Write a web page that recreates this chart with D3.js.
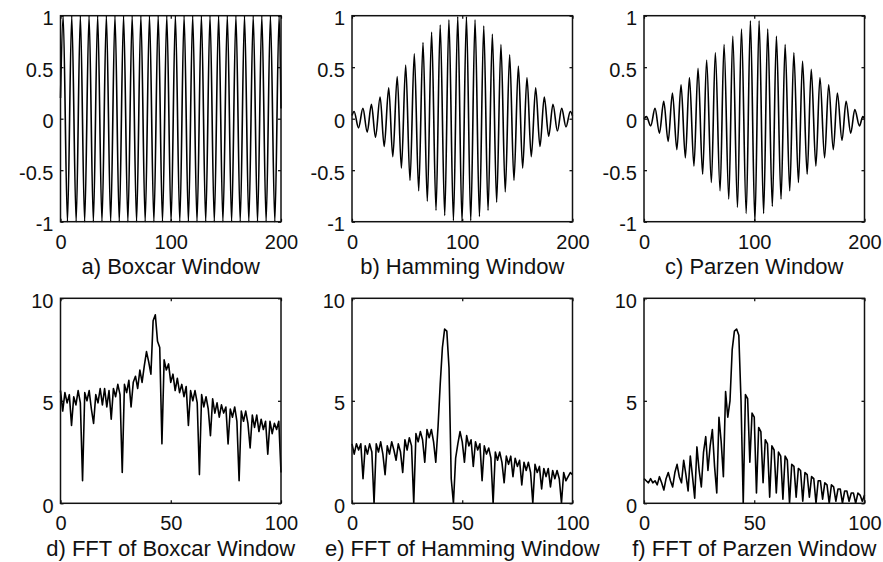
<!DOCTYPE html>
<html>
<head>
<meta charset="utf-8">
<script src="https://cdn.jsdelivr.net/npm/d3@7"></script>
<style>
  body { margin: 0; background: #fff; }
  svg { display: block; }
</style>
</head>
<body>
<div id="chart"></div>
<script>
// ---- data ----
// top row: turning points (peaks / troughs) of the windowed signal, x in samples
const boxcarX = [0, 2.4, 6.3, 10.2, 14.2, 18.0, 21.9, 25.9, 29.8, 33.7, 37.6, 41.6, 45.5, 49.4, 53.3, 57.2, 61.1, 65.0, 69.0, 72.9, 76.8,
  80.7, 84.7, 88.6, 92.5, 96.4, 100.3, 104.2, 108.2, 112.1, 116.0, 119.9, 123.8, 127.8, 131.7, 135.6, 139.5, 143.4, 147.3, 151.3, 155.2,
  159.1, 163.0, 166.9, 170.8, 174.8, 178.7, 182.6, 186.5, 190.4, 194.4, 198.3, 200];
const boxcarY = [0.2, 1, -1, 1, -1, 1, -1, 1, -1, 1, -1, 1, -1, 1, -1, 1, -1, 1, -1, 1, -1, 1, -1, 1, -1, 1, -1,
  1, -1, 1, -1, 1, -1, 1, -1, 1, -1, 1, -1, 1, -1, 1, -1, 1, -1, 1, -1, 1, -1, 1, -1, 1, 0.1];

const hammingX = [0, 1.9, 5.9, 9.9, 13.8, 17.6, 21.3, 25.5, 29.2, 33.3, 37.0, 41.0, 44.8, 48.7, 52.6, 56.5, 60.5, 64.4, 68.3, 72.2, 76.2,
  80.0, 84.1, 87.9, 92.0, 95.9, 99.8, 103.8, 107.7, 111.6, 115.6, 119.5, 123.4, 127.3, 131.2, 135.1, 139.0, 143.0, 146.9, 150.9, 154.8,
  158.7, 162.6, 166.6, 170.5, 174.4, 178.4, 182.3, 186.3, 190.2, 194.1, 198.0, 200];
const hammingY = [0.03, 0.07, -0.09, 0.10, -0.13, 0.14, -0.18, 0.21, -0.27, 0.30, -0.37, 0.41, -0.48, 0.52, -0.60, 0.63, -0.70,
  0.74, -0.80, 0.84, -0.89, 0.91, -0.94, 0.96, -0.99, 0.99, -1.0, 0.99, -0.99, 0.96, -0.95, 0.90, -0.89, 0.82, -0.81, 0.72, -0.71,
  0.62, -0.60, 0.51, -0.48, 0.40, -0.37, 0.30, -0.27, 0.21, -0.17, 0.14, -0.12, 0.10, -0.08, 0.07, 0.03];

const parzenX = [0, 2.2, 6.1, 10.0, 14.0, 17.9, 21.9, 25.8, 29.8, 33.6, 37.5, 41.2, 45.3, 49.0, 53.2, 56.8, 61.1, 64.7, 69.0, 72.6, 76.9,
  80.5, 84.8, 88.4, 92.7, 96.5, 100.6, 104.4, 108.5, 112.2, 116.4, 120.1, 124.3, 128.0, 132.2, 135.9, 140.1, 143.8, 148.0, 151.7, 155.9,
  159.6, 163.8, 167.5, 171.7, 175.4, 179.6, 183.3, 187.5, 191.2, 195.4, 198.5, 200];
const parzenY = [0.0, 0.02, -0.07, 0.10, -0.14, 0.17, -0.22, 0.25, -0.30, 0.33, -0.38, 0.40, -0.46, 0.49, -0.54, 0.57, -0.62,
  0.64, -0.70, 0.72, -0.78, 0.80, -0.86, 0.87, -0.92, 0.95, -1.0, 0.95, -0.92, 0.87, -0.85, 0.80, -0.78, 0.72, -0.70, 0.64, -0.62,
  0.56, -0.54, 0.48, -0.46, 0.40, -0.38, 0.33, -0.30, 0.25, -0.21, 0.17, -0.14, 0.09, -0.07, 0.02, 0.0];

// bottom row: FFT magnitude per bin 0..100
const boxcarFft = [5.5, 4.5, 5.4, 4.9, 5.3, 3.8, 5.2, 4.8, 5.5, 4.9, 1.1, 5.4, 5.0, 5.5, 4.6, 3.9, 5.3, 4.9, 5.6, 4.8,
  5.6, 4.7, 5.5, 4.1, 5.6, 5.2, 5.8, 5.3, 1.5, 5.8, 5.4, 6.0, 4.7, 5.9, 6.2, 5.6, 6.5, 5.9, 6.7, 7.4,
  6.9, 6.3, 8.9, 9.2, 7.9, 7.6, 2.9, 7.0, 6.5, 6.8, 5.9, 6.3, 5.5, 6.1, 5.4, 5.8, 5.2, 5.7, 3.8, 5.5,
  5.0, 5.5, 4.9, 1.4, 5.3, 4.7, 5.2, 4.6, 3.3, 5.1, 4.4, 4.9, 4.2, 4.8, 4.4, 4.7, 2.9, 4.6, 4.2, 4.7,
  4.0, 1.1, 4.5, 4.0, 4.5, 3.9, 2.7, 4.3, 3.7, 4.3, 3.5, 4.1, 3.6, 4.0, 2.4, 4.0, 3.4, 3.9, 3.6, 4.0, 1.5];
const hammingFft = [2.9, 2.4, 2.9, 2.6, 2.9, 1.2, 2.8, 2.4, 2.9, 2.5, 0.0, 2.9, 2.5, 3.0, 2.4, 1.4, 2.8, 2.4, 3.0, 2.6,
  2.1, 2.9, 2.5, 1.5, 3.1, 2.6, 3.2, 2.8, 0.0, 3.4, 3.0, 3.5, 3.1, 2.0, 3.6, 3.2, 3.6, 3.0, 2.0, 3.7,
  5.8, 7.6, 8.5, 8.4, 6.6, 1.2, 0.0, 2.2, 2.9, 3.5, 3.0, 2.0, 3.3, 2.8, 3.1, 1.8, 3.0, 2.6, 2.9, 1.1,
  2.8, 2.4, 2.7, 2.2, 0.0, 2.5, 2.1, 2.5, 2.0, 1.0, 2.3, 1.9, 2.3, 1.3, 2.2, 1.8, 2.1, 0.9, 2.0, 1.6,
  2.0, 1.5, 0.0, 1.9, 1.5, 1.8, 0.7, 1.7, 1.3, 1.7, 0.8, 1.6, 1.2, 1.6, 1.2, 0.0, 1.5, 1.1, 1.3, 1.5, 1.4];
const parzenFft = [1.2, 1.1, 1.0, 1.2, 1.0, 1.1, 0.9, 1.3, 1.0, 0.65, 1.2, 1.5, 1.1, 0.8, 1.5, 1.9, 1.3, 1.0, 2.1, 1.4,
  0.6, 2.3, 1.3, 0.25, 2.75, 1.6, 0.8, 2.5, 3.25, 1.6, 2.8, 3.6, 1.8, 0.5, 4.2, 3.0, 1.3, 5.45, 4.2, 5.0,
  7.5, 8.4, 8.5, 8.2, 5.0, 0.0, 5.3, 5.1, 2.0, 4.4, 4.2, 0.5, 3.7, 3.5, 1.0, 3.1, 2.9, 0.3, 2.8, 2.6,
  0.5, 2.5, 2.3, 0.2, 2.3, 2.1, 0.0, 1.9, 1.8, 0.3, 1.7, 1.6, 0.1, 1.5, 1.4, 0.3, 1.3, 1.2, 0.0, 1.1,
  1.1, 0.2, 1.0, 0.9, 0.0, 0.9, 0.8, 0.1, 0.7, 0.7, 0.0, 0.6, 0.6, 0.1, 0.5, 0.5, 0.0, 0.5, 0.4, 0.1, 0.4];

const topTitles = ["a) Boxcar Window", "b) Hamming Window", "c) Parzen Window"];
const bottomTitles = ["d) FFT of Boxcar Window", "e) FFT of Hamming Window", "f) FFT of Parzen Window"];
const topXTicks = [0, 100, 200];
const topYTicks = [-1, -0.5, 0, 0.5, 1];
const bottomXTicks = [0, 50, 100];
const bottomYTicks = [0, 5, 10];

// ---- layout ----
const width = 883, height = 562;
const font = "'Liberation Sans', Arial, Helvetica, sans-serif";
const colX = [60.5, 352, 644];
const panelW = 220.5;

let svg = d3.select("#chart")
  .append("svg")
  .attr("width", width)
  .attr("height", height);

function drawPanel(px, py, ph, xDomain, yDomain, xTicks, yTicks, pts, curve, title) {
  let g = svg.append("g").attr("transform", `translate(${px},${py})`);

  let x = d3.scaleLinear().domain(xDomain).range([0, panelW]);
  let y = d3.scaleLinear().domain(yDomain).range([ph, 0]);
  let fmt = d => String(d);

  // ticks point inwards, mirrored on top and right like matlab
  let styleAxis = a => {
    a.select(".domain").remove();
    a.attr("font-size", 20).attr("font-family", font);
    a.selectAll("line").attr("stroke", "#000").attr("stroke-width", 1.2);
    a.selectAll("text").attr("fill", "#111");
  };

  g.append("g")
    .attr("transform", `translate(0,${ph})`)
    .call(d3.axisBottom(x).tickValues(xTicks).tickSize(-3).tickPadding(13).tickFormat(fmt))
    .call(styleAxis);
  g.append("g")
    .call(d3.axisTop(x).tickValues(xTicks).tickSize(-3).tickFormat(""))
    .call(styleAxis);
  g.append("g")
    .call(d3.axisLeft(y).tickValues(yTicks).tickSize(-3).tickPadding(7).tickFormat(fmt))
    .call(styleAxis)
    .selectAll("text").attr("dy", "0.45em");
  g.append("g")
    .attr("transform", `translate(${panelW},0)`)
    .call(d3.axisRight(y).tickValues(yTicks).tickSize(-3).tickFormat(""))
    .call(styleAxis);

  let line = d3.line()
    .x(d => x(d[0]))
    .y(d => y(d[1]))
    .curve(curve);

  g.append("path")
    .datum(pts)
    .attr("d", line)
    .attr("fill", "none")
    .attr("stroke", "#000")
    .attr("stroke-width", 1.6)
    .attr("stroke-linejoin", "round");

  g.append("rect")
    .attr("width", panelW)
    .attr("height", ph)
    .attr("fill", "none")
    .attr("stroke", "#111")
    .attr("stroke-width", 1.5);

  g.append("text")
    .attr("x", panelW / 2)
    .attr("y", ph + 52.5)
    .attr("text-anchor", "middle")
    .attr("font-family", font)
    .attr("font-size", 22)
    .attr("fill", "#111")
    .text(title);
}

let topSeries = [[boxcarX, boxcarY], [hammingX, hammingY], [parzenX, parzenY]];
topSeries.forEach((s, i) => {
  let pts = s[0].map((v, j) => [v, s[1][j]]);
  drawPanel(colX[i], 15.7, 206, [0, 200], [-1, 1], topXTicks, topYTicks, pts, d3.curveMonotoneX, topTitles[i]);
});

let bottomSeries = [boxcarFft, hammingFft, parzenFft];
bottomSeries.forEach((s, i) => {
  let pts = s.map((v, j) => [j, v]);
  drawPanel(colX[i], 298.3, 205, [0, 100], [0, 10], bottomXTicks, bottomYTicks, pts, d3.curveLinear, bottomTitles[i]);
});
</script>
</body>
</html>
